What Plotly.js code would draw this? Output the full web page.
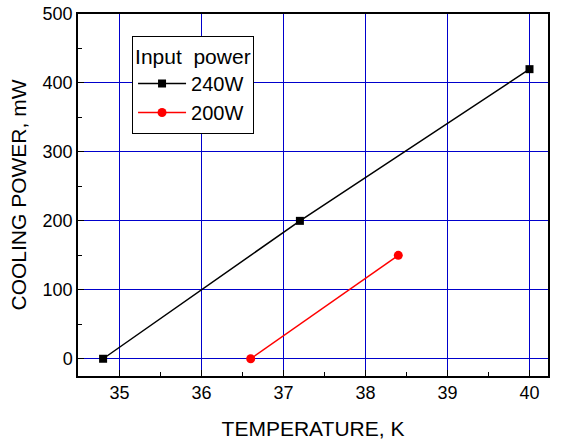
<!DOCTYPE html>
<html><head><meta charset="utf-8">
<script src="https://cdn.plot.ly/plotly-3.0.1.min.js"></script>
<style>body{margin:0;padding:0;background:#fff}#chart{width:564px;height:444px}</style>
</head><body><div id="chart"></div>
<script>
const temp240 = [34.8, 37.2, 40.0];
const power240 = [0, 200, 420];
const temp200 = [36.6, 38.4];
const power200 = [0, 150];
const seriesNames = ['240W', '200W'];
const legendTitle = 'Input\u00a0 power';
const xTitle = 'TEMPERATURE, K';
const yTitle = 'COOLING POWER, mW';

const font = 'Liberation Sans, Arial, sans-serif';
const traces = [
  {x: temp240, y: power240, name: seriesNames[0], mode: 'lines+markers',
   line: {color: '#000000', width: 1.5}, marker: {symbol: 'square', size: 8, color: '#000000'}},
  {x: temp200, y: power200, name: seriesNames[1], mode: 'lines+markers',
   line: {color: '#ff0000', width: 1.5}, marker: {symbol: 'circle', size: 9, color: '#ff0000'}}
];
const layout = {
  width: 564, height: 444,
  margin: {l: 78, r: 16, t: 14, b: 68},
  paper_bgcolor: '#fff', plot_bgcolor: '#fff',
  showlegend: true,
  legend: {
    x: 0.115, y: 0.94, xanchor: 'left', yanchor: 'top',
    bgcolor: '#fff', bordercolor: '#000', borderwidth: 1,
    font: {family: font, size: 20, color: '#000'},
    title: {text: legendTitle, font: {family: font, size: 21, color: '#000'}},
    tracegroupgap: 0, itemwidth: 48
  },
  xaxis: {
    showline: true, linecolor: '#000', linewidth: 1.5, mirror: true,
    ticks: 'inside', ticklen: 6, tickcolor: '#000', tickwidth: 1,
    showgrid: true, gridcolor: '#0000cc', gridwidth: 1, zeroline: false,
    tickfont: {family: font, size: 18, color: '#000'},
    range: [34.4939, 40.2256], dtick: 1, tick0: 35,
    minor: {dtick: 0.5, ticks: 'inside', ticklen: 4, tickcolor: '#000', showgrid: false},
    title: {text: xTitle, font: {family: font, size: 21, color: '#000'}, standoff: 19}
  },
  yaxis: {
    showline: true, linecolor: '#000', linewidth: 1.5, mirror: true,
    ticks: 'inside', ticklen: 6, tickcolor: '#000', tickwidth: 1,
    showgrid: true, gridcolor: '#0000cc', gridwidth: 1, zeroline: false,
    tickfont: {family: font, size: 18, color: '#000'},
    range: [-25, 500], dtick: 100, tick0: 0,
    minor: {dtick: 50, ticks: 'inside', ticklen: 4, tickcolor: '#000', showgrid: false},
    title: {text: yTitle, font: {family: font, size: 21, color: '#000'}, standoff: 10}
  }
};
Plotly.newPlot('chart', traces, layout, {displayModeBar: false});
</script></body></html>
